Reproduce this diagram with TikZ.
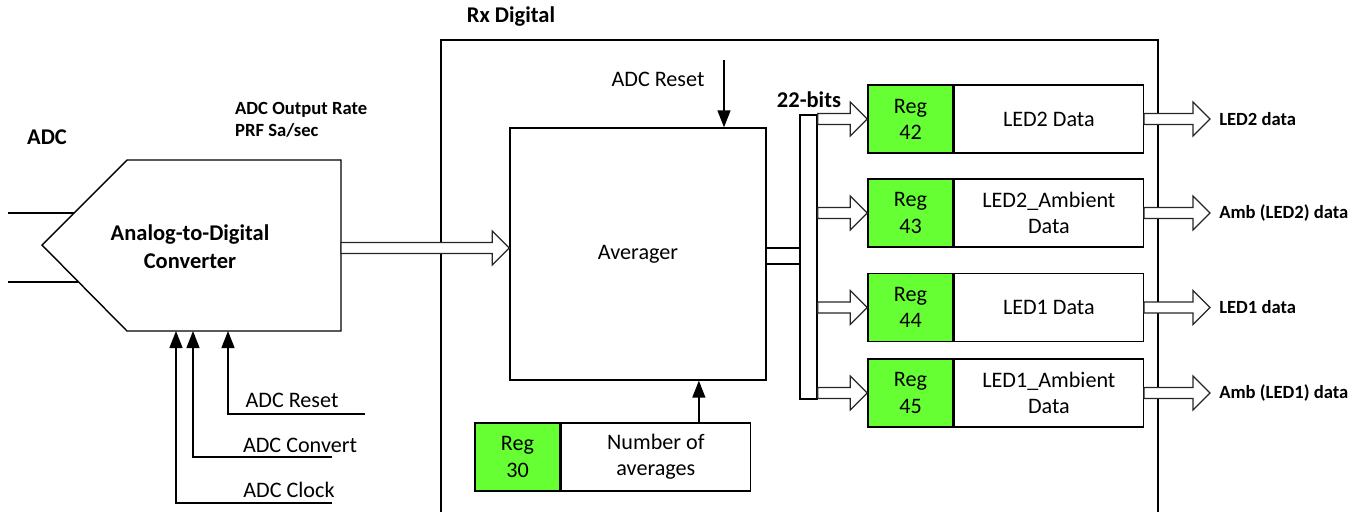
\documentclass[tikz,border=0pt]{standalone}
\usepackage{fontspec}
\setmainfont{Carlito}
\usetikzlibrary{positioning,calc,arrows.meta}

\definecolor{reggreen}{RGB}{102,255,51}

\tikzset{
  txt/.style={font=\fontsize{12.6}{14.9}\selectfont},
  boldlbl/.style={font=\bfseries\fontsize{12.8}{16}\selectfont, align=center},
  smalllbl/.style={font=\bfseries\fontsize{10.6}{12.5}\selectfont, align=left},
  regbox/.style={draw, fill=reggreen, line width=0.8pt, minimum width=1.7cm, minimum height=1.36cm, inner sep=0pt, align=center, txt},
  databox/.style={draw, fill=white, line width=0.8pt, minimum width=3.78cm, minimum height=1.36cm, inner sep=0pt, align=center, txt},
  sig/.style={line width=0.8pt, -{Triangle[length=0.34cm,width=0.26cm]}},
  fat/.style={draw=black!85, fill=white, line width=0.7pt}
}

% hollow bus arrow, drawn at the height of the second point
\newcommand{\fatarrow}[2]{%
  \draw[fat] let \p1=(#1), \p2=(#2) in
    ({\x1},{\y2+0.11cm}) -- ({\x2-0.34cm},{\y2+0.11cm}) -- ({\x2-0.34cm},{\y2+0.34cm})
    -- ({\x2},{\y2}) -- ({\x2-0.34cm},{\y2-0.34cm}) -- ({\x2-0.34cm},{\y2-0.11cm})
    -- ({\x1},{\y2-0.11cm}) -- cycle;}

\begin{document}
\begin{tikzpicture}[x=0.02cm, y=-0.02cm]
    \useasboundingbox (0,0) rectangle (1366,512);

    % Rx Digital block
    \draw[line width=0.8pt] (441,512) |- (1158,40) -- (1158,512);
    \node[boldlbl] (rxlbl) at (511,17) {Rx Digital};

    % ADC
    \node[boldlbl] (adclbl) at (47,137) {ADC};
    \node[smalllbl, anchor=west] (ratelbl) at (229,120) {ADC Output Rate\\PRF Sa/sec};
    \draw[line width=0.8pt] (127,160) -- (341,160) -- (341,331) -- (127,331) -- (42,245) -- cycle;
    \node[boldlbl] (adctxt) at (190,247) {Analog-to-Digital\\Converter};
    \coordinate (in1) at (8,213);
    \coordinate (in2) at (8,282);
    \draw[line width=0.8pt] (in1) -- (74,213);
    \draw[line width=0.8pt] (in2) -- (78,282);

    % Control inputs of the ADC
    \coordinate (rstend) at (365,414);
    \coordinate (cnvend) at (332,457);
    \coordinate (clkend) at (332,503);
    \draw[sig] (rstend) -| (228,331);
    \draw[sig] (cnvend) -| (193,331);
    \draw[sig] (clkend) -| (176,331);
    \node[txt] (rstlbl) at (292,400) {ADC Reset};
    \node[txt] (cnvlbl) at (300,445) {ADC Convert};
    \node[txt] (clklbl) at (289,490) {ADC Clock};

    % Averager
    \node[draw, line width=0.8pt, minimum width=5.12cm, minimum height=5.04cm, txt] (avg) at (638,254) {Averager};
    \coordinate (adcout) at (341,248);
    \fatarrow{adcout}{avg.west |- adcout}

    \coordinate (avgrst) at (724,60);
    \draw[sig] (avgrst) -- (avgrst |- avg.north);
    \node[txt] (avgrstlbl) at (658,79) {ADC Reset};

    \node[regbox] (g30) at (517.5,457) {Reg\\30};
    \node[databox, right=0pt of g30] (d30) {Number of\\averages};
    \draw[sig] ([xshift=0.86cm]d30.north) -- ([xshift=0.86cm]d30.north |- avg.south);

    % 22-bit bus
    \draw[line width=0.8pt] ([yshift=0.12cm]avg.east) -- ++(0.68cm,0);
    \draw[line width=0.8pt] ([yshift=-0.2cm]avg.east) -- ++(0.68cm,0);
    \node[draw, fill=white, line width=0.8pt, minimum width=0.34cm, minimum height=5.68cm, inner sep=0pt] (bus) at (808.5,257) {};
    \node[boldlbl] (buslbl) at (809,100) {22-bits};

    % Result registers
    \foreach \rn/\ry/\txt/\out in {42/119/{LED2 Data}/{LED2 data}, 43/213/{LED2\_Ambient\\Data}/{Amb (LED2) data}, 44/307.5/{LED1 Data}/{LED1 data}, 45/393/{LED1\_Ambient\\Data}/{Amb (LED1) data}} {
      \node[regbox] (g\rn) at (910.5,\ry) {Reg\\\rn};
      \node[databox, right=0pt of g\rn] (d\rn) {\txt};
      \coordinate[right=1.32cm of d\rn.east] (o\rn);
      \node[smalllbl, right=0.06cm of o\rn] (l\rn) {\out};
      \fatarrow{bus.east}{g\rn.west}
      \fatarrow{d\rn.east}{o\rn}
    }
\end{tikzpicture}
\end{document}
